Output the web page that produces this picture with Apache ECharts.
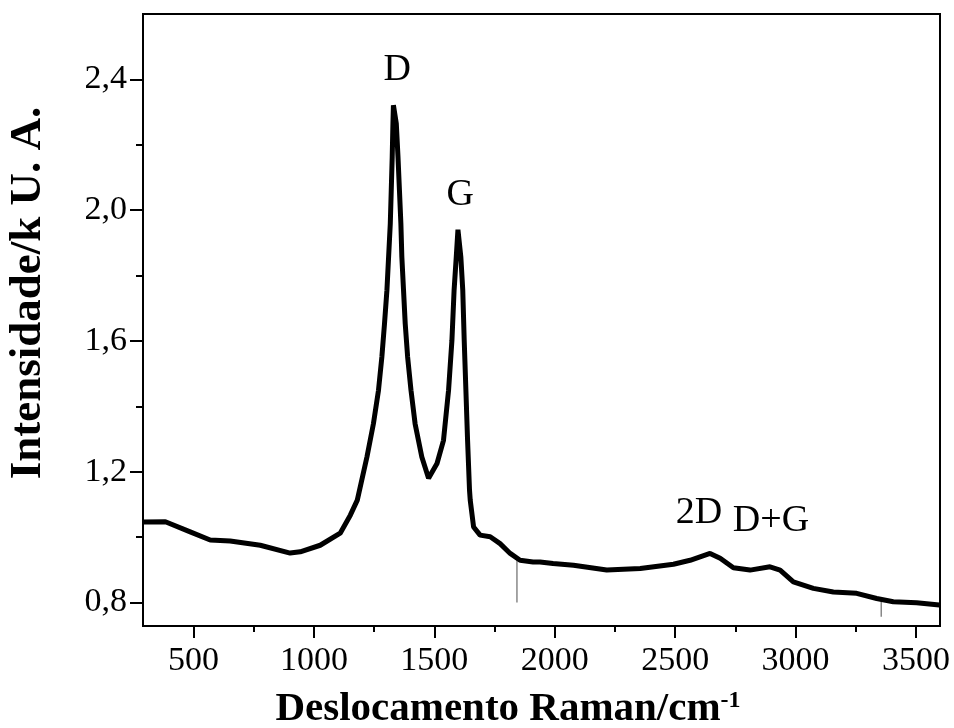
<!DOCTYPE html>
<html>
<head>
<meta charset="utf-8">
<script src="https://cdn.jsdelivr.net/npm/echarts@6/dist/echarts.min.js"></script>
<style>
html,body{margin:0;padding:0;background:#fff;}
#chart{width:954px;height:728px;}
</style>
</head>
<body>
<div id="chart"></div>
<script>
// Raman shift (cm^-1) and intensity (k U.A.)
var ramanShift = [291,383,486,569,652,777,901,943,1026,1109,1151,1180,1220,1247,1268,1282,1293,1303,1310,1317,1321,1325,1328,1330,1342,1349,1355,1361,1365,1372,1379,1389,1403,1420,1448,1476,1511,1538,1559,1573,1582,1591,1598,1610,1618,1624,1631,1638,1646,1649,1663,1690,1732,1773,1815,1856,1910,1939,1993,2078,2216,2355,2493,2562,2645,2687,2742,2811,2894,2936,2991,3074,3157,3254,3337,3406,3503,3597];
var intensity = [1.046,1.047,1.016,0.991,0.988,0.975,0.951,0.955,0.975,1.012,1.067,1.113,1.245,1.347,1.449,1.551,1.653,1.755,1.857,1.959,2.061,2.163,2.265,2.321,2.265,2.163,2.061,1.959,1.857,1.755,1.653,1.551,1.449,1.347,1.245,1.180,1.225,1.296,1.449,1.602,1.755,1.857,1.940,1.857,1.755,1.602,1.449,1.296,1.144,1.113,1.031,1.006,1.001,0.980,0.950,0.929,0.924,0.924,0.919,0.914,0.899,0.904,0.917,0.929,0.950,0.935,0.906,0.899,0.909,0.899,0.863,0.843,0.832,0.828,0.812,0.802,0.799,0.792];

// thin spikes (cosmic-ray artefacts)
var spikeShift = [1843, 3356];
var spikeTop = [0.93, 0.81];
var spikeBottom = [0.80, 0.756];

// peak annotations
var peakLabels = ['D', 'G', '2D', 'D+G'];
var peakLabelShift = [1346, 1607, 2599, 2898];
var peakLabelIntensity = [2.428, 2.046, 1.073, 1.049];

// ticks
var xMajorTicks = [500, 1000, 1500, 2000, 2500, 3000, 3500];
var xMinorTicks = [750, 1250, 1750, 2250, 2750, 3250];
var yMajorTicks = [0.8, 1.2, 1.6, 2.0, 2.4];
var yMinorTicks = [1.0, 1.4, 1.8, 2.2];

var xTitle = 'Deslocamento Raman/cm';
var xTitleSup = '-1';
var yTitle = 'Intensidade/k U. A.';

var FONT = '"Liberation Serif", "Times New Roman", serif';

var spectrum = ramanShift.map(function (x, i) { return [x, intensity[i]]; });

var series = [{
  type: 'line',
  xAxisIndex: 0, yAxisIndex: 0,
  data: spectrum,
  showSymbol: false,
  symbol: 'none',
  lineStyle: { color: '#000', width: 5 },
  animation: false,
  z: 3
}];
spikeShift.forEach(function (x, i) {
  series.push({
    type: 'line',
    xAxisIndex: 0, yAxisIndex: 0,
    data: [[x, spikeTop[i]], [x, spikeBottom[i]]],
    symbol: 'none',
    lineStyle: { color: '#888', width: 1.5 },
    animation: false,
    z: 2
  });
});

function commaFmt(v) { return Number(v).toFixed(1).replace('.', ','); }
function plainFmt(v) { return String(v); }

var option = {
  backgroundColor: '#fff',
  animation: false,
  grid: {
    left: 143, right: 14, top: 14, bottom: 102,
    containLabel: false,
    show: true, borderColor: '#000', borderWidth: 2, backgroundColor: 'transparent'
  },
  xAxis: [{
    type: 'value', min: 290, max: 3600, position: 'bottom',
    axisLine: { show: true, onZero: false, lineStyle: { color: '#000', width: 2 } },
    axisTick: { show: true, inside: false, length: 12, customValues: xMajorTicks, lineStyle: { color: '#000', width: 2 } },
    axisLabel: { show: true, customValues: xMajorTicks, formatter: plainFmt, color: '#000', fontFamily: FONT, fontSize: 34, margin: 18 },
    splitLine: { show: false }
  }, {
    type: 'value', min: 290, max: 3600, position: 'bottom',
    axisLine: { show: false, onZero: false },
    axisTick: { show: true, inside: false, length: 6, customValues: xMinorTicks, lineStyle: { color: '#000', width: 2 } },
    axisLabel: { show: false },
    splitLine: { show: false }
  }],
  yAxis: [{
    type: 'value', min: 0.728, max: 2.6, position: 'left',
    axisLine: { show: true, onZero: false, lineStyle: { color: '#000', width: 2 } },
    axisTick: { show: true, inside: false, length: 13, customValues: yMajorTicks, lineStyle: { color: '#000', width: 2 } },
    axisLabel: { show: true, customValues: yMajorTicks, formatter: commaFmt, color: '#000', fontFamily: FONT, fontSize: 34, margin: 16 },
    splitLine: { show: false }
  }, {
    type: 'value', min: 0.728, max: 2.6, position: 'left',
    axisLine: { show: false, onZero: false },
    axisTick: { show: true, inside: false, length: 7, customValues: yMinorTicks, lineStyle: { color: '#000', width: 2 } },
    axisLabel: { show: false },
    splitLine: { show: false }
  }],
  series: series
};

var chart = echarts.init(document.getElementById('chart'), null, { renderer: 'canvas' });
chart.setOption(option);

var graphics = [{
  type: 'text',
  x: 508, y: 709,
  style: {
    text: '{b|' + xTitle + '}{s|' + xTitleSup + '}',
    align: 'center', verticalAlign: 'middle',
    fill: '#000',
    rich: {
      b: { fontFamily: FONT, fontWeight: 'bold', fontSize: 41, fill: '#000' },
      s: { fontFamily: FONT, fontWeight: 'bold', fontSize: 24, fill: '#000', verticalAlign: 'top' }
    }
  }
}, {
  type: 'text',
  x: 28, y: 293,
  rotation: Math.PI / 2,
  style: {
    text: yTitle,
    align: 'center', verticalAlign: 'middle',
    fontFamily: FONT, fontWeight: 'bold', fontSize: 45, fill: '#000'
  }
}];
peakLabels.forEach(function (t, i) {
  var p = chart.convertToPixel({ gridIndex: 0 }, [peakLabelShift[i], peakLabelIntensity[i]]);
  graphics.push({
    type: 'text', x: p[0], y: p[1],
    style: {
      text: t, align: 'center', verticalAlign: 'middle',
      fontFamily: FONT, fontSize: 38, fill: '#000'
    }
  });
});
chart.setOption({ graphic: graphics });
</script>
</body>
</html>
